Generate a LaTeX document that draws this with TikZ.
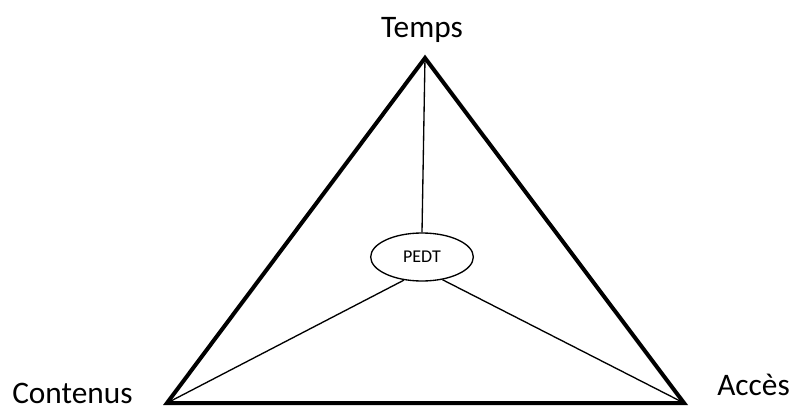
\documentclass[tikz,border=0pt]{standalone}
\usepackage{fontspec}
\setmainfont{Carlito}
\usepackage{tikz}
\usetikzlibrary{shapes.geometric}

\begin{document}
\begin{tikzpicture}[x=0.75pt, y=-0.75pt,
    side/.style={line width=3pt, line join=miter},
    spoke/.style={line width=1pt},
    lbl/.style={font=\fontsize{23.5}{28}\selectfont, inner sep=0pt},
    hub/.style={ellipse, draw, line width=1pt, minimum width=77pt, minimum height=36pt, font=\fontsize{13.5}{16}\selectfont}]
    \useasboundingbox (0,0) rectangle (793,410);
    \coordinate (T) at (425,58);
    \coordinate (C) at (167,403);
    \coordinate (A) at (684,403);
    \draw[side] (T) -- (A) -- (C) -- cycle;
    \node[hub] (P) at (422,257) {PEDT};
    \draw[spoke] (P.north) -- (T);
    \draw[spoke] (P.232) -- (C);
    \draw[spoke] (P.312) -- (A);
    \node[lbl, anchor=base] (temps) at (422,38) {Temps};
    \node[lbl, anchor=base west] (contenus) at (12,403) {Contenus};
    \node[lbl, anchor=base west] (acces) at (717,395) {Accès};
\end{tikzpicture}
\end{document}
